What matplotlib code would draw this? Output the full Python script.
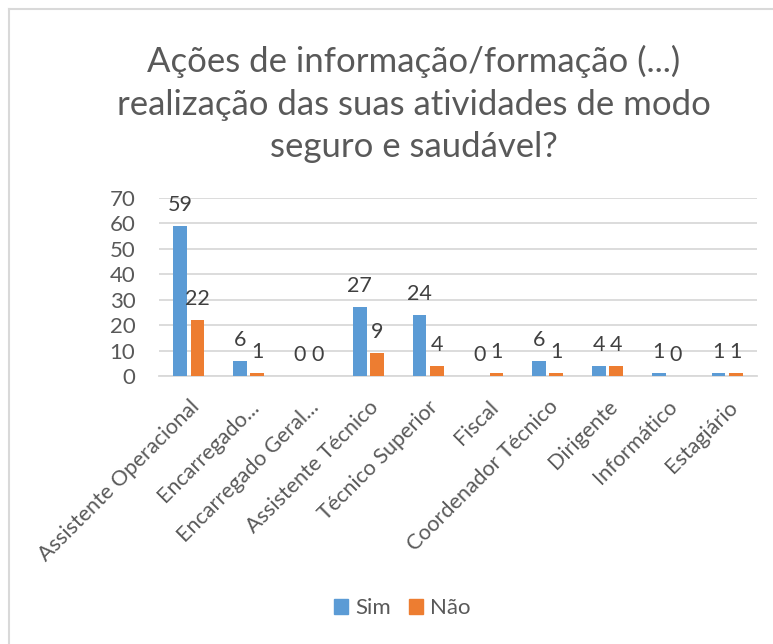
import numpy as np
import matplotlib.pyplot as plt
from matplotlib.lines import Line2D
from matplotlib.patches import Patch

plt.rcParams['font.family'] = ['Lato', 'DejaVu Sans']

# dados
categorias = ["Assistente Operacional", "Encarregado...", "Encarregado Geral...",
              "Assistente Técnico", "Técnico Superior", "Fiscal",
              "Coordenador Técnico", "Dirigente", "Informático", "Estagiário"]
sim = [59, 6, 0, 27, 24, 0, 6, 4, 1, 1]
nao = [22, 1, 0, 9, 4, 1, 1, 4, 0, 1]

azul = "#5B9BD5"
laranja = "#ED7D31"
cinza_txt = "#595959"

W, H = 773, 644
fig = plt.figure(figsize=(W / 100, H / 100), dpi=100)
ax = fig.add_axes([159 / W, 1 - 376 / H, (757 - 159) / W, (376 - 198) / H])

x = np.arange(len(categorias))
larg = 0.23
desl = 0.145
b1 = ax.bar(x - desl, sim, larg, color=azul, zorder=3)
b2 = ax.bar(x + desl, nao, larg, color=laranja, zorder=3)

# rótulos de dados
for barras in (b1, b2):
    for r in barras:
        ax.annotate(f"{int(r.get_height())}",
                    (r.get_x() + r.get_width() / 2, r.get_height()),
                    xytext=(0, 8), textcoords="offset points",
                    ha="center", va="bottom", fontsize=15.5, color="#404040")

ax.set_xlim(-0.5, len(categorias) - 0.5)
ax.set_ylim(0, 70)
ax.set_yticks(range(0, 71, 10))
ax.yaxis.grid(True, color="#D9D9D9", linewidth=1.3, zorder=0)
for s in ["top", "right", "left"]:
    ax.spines[s].set_visible(False)
ax.spines["bottom"].set_color("#D9D9D9")
ax.spines["bottom"].set_linewidth(1.3)
ax.tick_params(axis="both", length=0, colors=cinza_txt)
ax.tick_params(axis="y", pad=17, labelsize=16)
ax.set_xticks(x)
ax.set_xticklabels(categorias, rotation=45, ha="right", rotation_mode="anchor")
ax.tick_params(axis="x", pad=15, labelsize=15.5)

fig.text(414 / W, 1 - 104 / H,
         "Ações de informação/formação (...)\nrealização das suas atividades de modo\nseguro e saudável?",
         ha="center", va="center", fontsize=25, color=cinza_txt, linespacing=1.42)

fig.legend(handles=[Patch(color=azul, label="Sim"), Patch(color=laranja, label="Não")],
           loc="center", bbox_to_anchor=(402 / W, 1 - 608 / H), ncol=2, frameon=False,
           fontsize=16, handlelength=0.65, handleheight=0.65, handletextpad=0.3,
           columnspacing=0.8, labelcolor=cinza_txt)

# moldura
fig.add_artist(Line2D([8.5 / W, 1], [1 - 9 / H, 1 - 9 / H], color="#D9D9D9", lw=1.5))
fig.add_artist(Line2D([8.5 / W, 8.5 / W], [0, 1 - 9 / H], color="#D9D9D9", lw=1.5))

fig.savefig("out.png", dpi=100)
